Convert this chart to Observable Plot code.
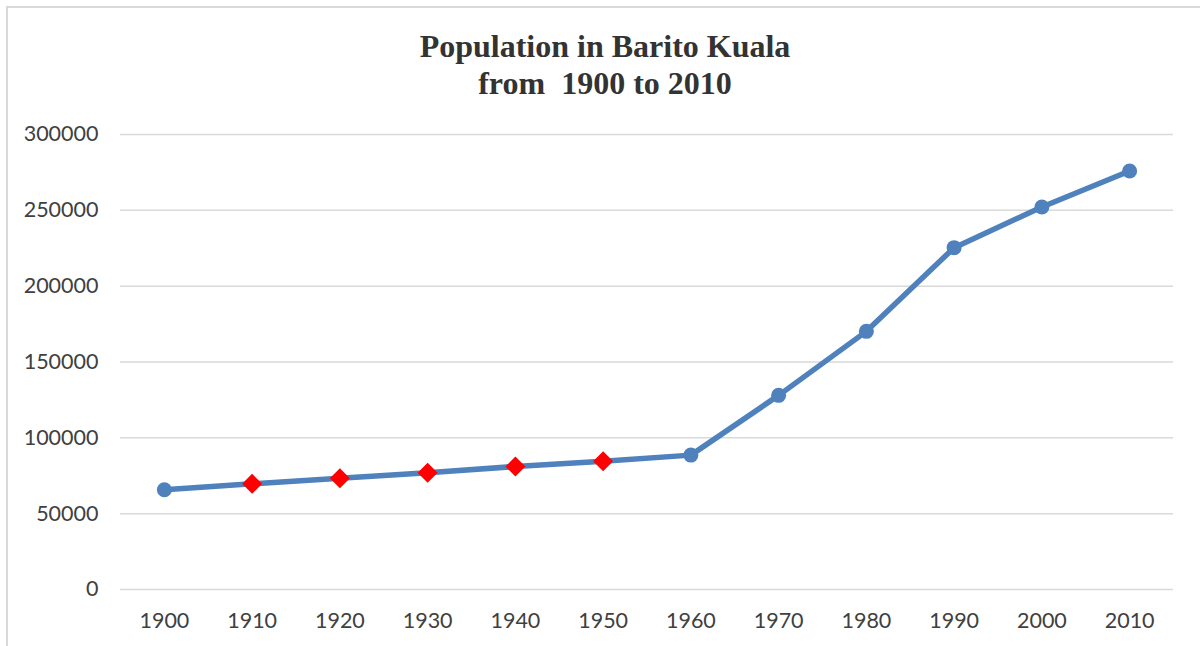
<!DOCTYPE html>
<html>
<head>
<meta charset="utf-8">
<script src="https://cdn.jsdelivr.net/npm/d3@7"></script>
<script src="https://cdn.jsdelivr.net/npm/@observablehq/plot@0.6"></script>
<style>
  html, body { margin: 0; padding: 0; background: #fff; }
  #wrap { position: relative; width: 1200px; height: 646px; overflow: hidden; background: #fff; }
  #frame { position: absolute; left: 6px; top: 6px; width: 1220px; height: 680px; border-left: 2px solid #d9d9d9; border-top: 2px solid #d9d9d9; box-sizing: border-box; }
  #title { position: absolute; left: 0; top: 28px; width: 1210px; text-align: center; font-family: "Liberation Serif", "Times New Roman", serif; font-weight: bold; font-size: 32px; line-height: 37px; color: #333; }
  #chart { position: absolute; left: 0; top: 110px; }
</style>
</head>
<body>
<div id="wrap">
  <div id="frame"></div>
  <div id="title">Population in Barito Kuala<br>from&nbsp; 1900 to 2010</div>
  <div id="chart"></div>
</div>
<script>
const years = [1900, 1910, 1920, 1930, 1940, 1950, 1960, 1970, 1980, 1990, 2000, 2010];
const population = [65800, 69700, 73400, 77000, 81100, 84600, 88600, 128000, 170200, 225400, 252200, 275900];
const estimatedYears = [1910, 1920, 1930, 1940, 1950];
const yTicks = [0, 50000, 100000, 150000, 200000, 250000, 300000];

const data = years.map((y, i) => ({year: y, pop: population[i], est: estimatedYears.includes(y)}));

const plot = Plot.plot({
  width: 1200,
  height: 536,
  marginTop: 24,
  marginBottom: 57,
  marginLeft: 120,
  marginRight: 27,
  style: {fontFamily: "Lato, 'Open Sans', sans-serif", fontSize: "21.5px", color: "#404040", background: "transparent"},
  x: {type: "point", domain: years, padding: 0.5, round: false, label: null},
  y: {domain: [0, 300000], label: null},
  marks: [
    Plot.ruleY(yTicks, {stroke: "#d9d9d9", strokeWidth: 1.5}),
    Plot.axisY({ticks: yTicks, tickSize: 0, tickPadding: 22, tickFormat: d => String(d), fill: "#404040", label: null}),
    Plot.axisX({tickSize: 0, tickPadding: 23, tickFormat: d => String(d), fill: "#404040", label: null}),
    Plot.line(data, {x: "year", y: "pop", stroke: "#4f81bd", strokeWidth: 5.5, strokeLinejoin: "round", strokeLinecap: "round"}),
    Plot.dot(data.filter(d => !d.est), {x: "year", y: "pop", r: 7.5, fill: "#4f81bd", stroke: "none"}),
    Plot.dot(data.filter(d => d.est), {x: "year", y: "pop", symbol: "diamond2", r: 9, fill: "#ff0000", stroke: "none"})
  ]
});
document.getElementById("chart").appendChild(plot);
</script>
</body>
</html>
